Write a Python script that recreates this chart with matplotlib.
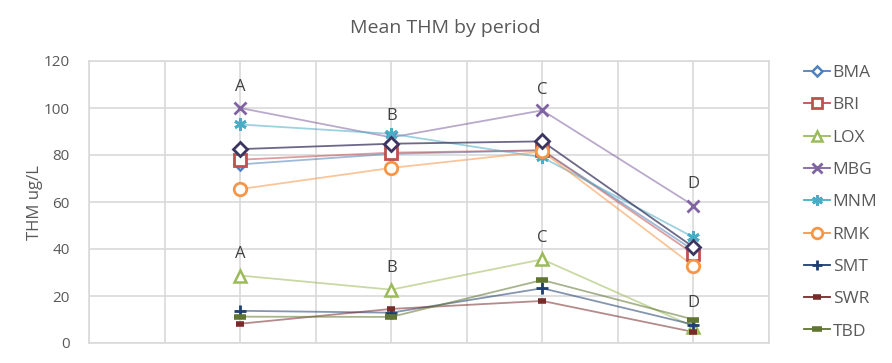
import matplotlib
matplotlib.use("Agg")
import matplotlib.pyplot as plt
from matplotlib.ticker import MultipleLocator

plt.rcParams['font.family'] = ['Open Sans', 'DejaVu Sans']

periods = [1, 2, 3, 4]
series_names = ["BMA", "BRI", "LOX", "MBG", "MNM", "RMK", "SMT", "SWR", "TBD"]
BMA = [76, 80.5, 82, 39.5]
BRI = [78, 81, 82, 38]
LOX = [28.7, 22.7, 35.6, 7]
MBG = [100, 87.5, 99, 58.5]
MNM = [93, 89, 79, 45]
RMK = [65.5, 74.5, 81.5, 32.8]
SMT = [13.7, 12.9, 23.3, 7.8]
SWR = [8.2, 14.5, 17.9, 4.7]
TBD = [11.2, 11.1, 26.8, 10]
MEAN = [82.5, 84.8, 85.8, 40.8]

upper_labels = ["A", "B", "C", "D"]
upper_label_y = [109, 96.5, 107.5, 67.5]
lower_labels = ["A", "B", "C", "D"]
lower_label_y = [38, 32, 44.5, 17]

values = [BMA, BRI, LOX, MBG, MNM, RMK, SMT, SWR, TBD]
colors = ["#4F81BD", "#C0504D", "#9BBB59", "#8064A2", "#4BACC6", "#F79646",
          "#1F3F6E", "#772C2A", "#5F7530"]
markers = ["D", "s", "^", "x", (6, 2, 0), "o", "+", "_", "_"]
msizes = [6, 9, 9, 9, 9, 9, 9, 6, 9]
mews = [1.8, 2.0, 1.8, 2.0, 2.0, 2.0, 2.0, 4.0, 4.0]
fills = ["white", "white", "white", "none", "none", "white", "none", "none", "none"]

fig = plt.figure(figsize=(8.92, 3.63), dpi=100)
ax = fig.add_axes([89 / 892, 1 - 343 / 363, (769 - 89) / 892, (343 - 61) / 363])

handles = []
for name, v, c, m, ms, mew, fc in zip(series_names, values, colors, markers, msizes, mews, fills):
    ax.plot(periods, v, color=c, lw=1.3, alpha=0.55, zorder=2)
    ax.plot(periods, v, linestyle="none", marker=m, markersize=ms, markeredgecolor=c,
            markerfacecolor=fc, markeredgewidth=mew, zorder=3)
    h, = ax.plot([], [], color=c, lw=1.3, alpha=1, marker=m, markersize=ms * 0.85,
                 markeredgecolor=c, markerfacecolor=fc, markeredgewidth=mew, label=name)
    handles.append(h)

ax.plot(periods, MEAN, color="#3B3560", lw=1.3, alpha=0.75, zorder=2)
ax.plot(periods, MEAN, linestyle="none", marker="D", markersize=7, markeredgecolor="#3B3560",
        markerfacecolor="white", markeredgewidth=2.0, zorder=4)

for xp, lab, yv in zip(periods, upper_labels, upper_label_y):
    ax.text(xp, yv, lab, ha="center", va="center", fontsize=12, color="#404040")
for xp, lab, yv in zip(periods, lower_labels, lower_label_y):
    ax.text(xp, yv, lab, ha="center", va="center", fontsize=12, color="#404040")

ax.set_xlim(0, 4.5)
ax.set_ylim(0, 120)
ax.xaxis.set_major_locator(MultipleLocator(0.5))
ax.yaxis.set_major_locator(MultipleLocator(20))
ax.grid(True, color="#D9D9D9", lw=1.2)
ax.set_axisbelow(True)
ax.tick_params(axis="x", length=0, labelbottom=False)
ax.tick_params(axis="y", length=0, labelsize=11, labelcolor="#595959", pad=14)
for s in ax.spines.values():
    s.set_color("#D9D9D9")
    s.set_linewidth(1.2)
ax.set_ylabel("THM ug/L", fontsize=12, color="#595959", labelpad=0)

fig.text(445 / 892, 1 - 28 / 363, "Mean THM by period", ha="center", va="center",
         fontsize=14, color="#595959")

leg = fig.legend(handles=handles, loc="upper left", bbox_to_anchor=(804 / 892, 1 - 65 / 363),
                 frameon=False, fontsize=12.5, labelspacing=0.93, handlelength=1.5,
                 handletextpad=0.15, borderaxespad=0, borderpad=0)
for t in leg.get_texts():
    t.set_color("#595959")

fig.savefig("out.png", dpi=100)
